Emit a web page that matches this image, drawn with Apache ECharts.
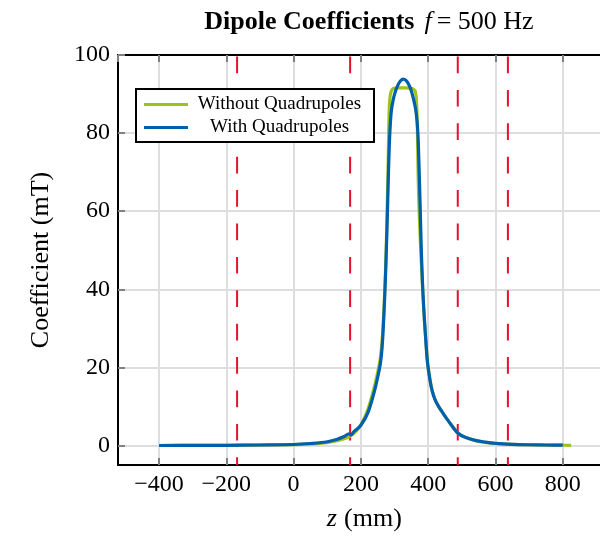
<!DOCTYPE html>
<html>
<head>
<meta charset="utf-8">
<script src="https://cdn.jsdelivr.net/npm/echarts@6/dist/echarts.min.js"></script>
<style>
  html, body { margin: 0; padding: 0; background: #fff; }
  #chart { width: 600px; height: 536px; }
</style>
</head>
<body>
<div id="chart"></div>
<script>
// Dipole coefficient along the beam axis, f = 500 Hz
const zWithout = [-400, -300, -200, -100, 0, 50, 100, 130, 150, 168, 185, 200, 220, 240, 250, 258, 264, 268, 272, 275, 278, 281, 283, 285, 288, 293, 300, 315, 330, 345, 355, 361, 364, 366, 368, 370, 372, 375, 379, 383, 388, 393, 398, 405, 412, 420, 430, 440, 460, 488, 510, 540, 570, 600, 650, 700, 750, 800, 825];
const bWithout = [0, 0.02, 0.05, 0.1, 0.2, 0.4, 0.75, 1.2, 1.7, 2.4, 3.6, 5.3, 9.0, 15.0, 18.8, 22.5, 28, 34, 42, 50, 60, 72, 82, 87.5, 90, 91.2, 91.5, 91.6, 91.6, 91.5, 91.3, 90.8, 89.5, 87, 81, 70, 63, 56, 48, 41, 33, 27, 21.5, 17.2, 14.1, 11.9, 10.2, 8.8, 6.3, 3.2, 2.1, 1.25, 0.78, 0.5, 0.26, 0.15, 0.1, 0.07, 0.05];

const zWith = [-400, -300, -200, -100, 0, 50, 100, 130, 150, 165, 170, 180, 200, 220, 240, 250, 258, 263, 267, 271, 275, 279, 282, 285, 288, 291, 296, 302, 310, 318, 326, 334, 342, 350, 357, 363, 367, 370, 373, 376, 379, 383, 387, 391, 394, 398, 405, 412, 420, 430, 440, 460, 488, 510, 540, 570, 600, 650, 700, 750, 800];
const bWith = [0, 0.02, 0.05, 0.12, 0.25, 0.5, 0.95, 1.6, 2.3, 3.0, 2.7, 3.6, 5.2, 8.2, 13.8, 17.5, 21, 25, 31, 38.5, 48, 60, 70, 78, 83, 86, 88.5, 90.5, 92.3, 93.4, 93.8, 93.5, 92.5, 90.8, 88.5, 86, 83, 79, 71, 62, 52, 42, 35, 29.5, 25.5, 21.2, 16.9, 13.9, 11.8, 10.1, 8.8, 6.3, 3.2, 2.1, 1.3, 0.85, 0.55, 0.3, 0.18, 0.12, 0.08];

// Magnet boundaries along z (mm)
const boundaries = [-168, 168, 488, 637];

const seriesNames = ['Without Quadrupoles', 'With Quadrupoles'];
const xRange = [-522, 942];
const yRange = [-5, 100];

const GREEN = '#9dc41a';
const BLUE = '#0060ae';
const RED = '#e8102e';
const SERIF = '"Liberation Serif", "DejaVu Serif", serif';

const pairs = (xs, ys) => xs.map((x, i) => [x, ys[i]]);

const boundarySeries = boundaries.map(b => ({
  type: 'line',
  data: [[b, yRange[1]], [b, yRange[0]]],
  symbol: 'none',
  silent: true,
  clip: false,
  z: 3,
  lineStyle: { color: RED, width: 2, type: [16.7, 16.7], dashOffset: -1.5 }
}));

const chart = echarts.init(document.getElementById('chart'), null, { renderer: 'canvas' });

chart.setOption({
  animation: false,
  backgroundColor: '#fff',
  title: {
    text: '{b|Dipole Coefficients}  {i|f} {n|= 500 Hz}',
    left: 364,
    top: 4,
    textAlign: 'center',
    textStyle: {
      fontWeight: 'normal',
      rich: {
        b: { fontFamily: SERIF, fontWeight: 'bold', fontSize: 26, color: '#000' },
        i: { fontFamily: SERIF, fontStyle: 'italic', fontWeight: 'normal', fontSize: 26, color: '#000' },
        n: { fontFamily: SERIF, fontWeight: 'normal', fontSize: 26, color: '#000' }
      }
    }
  },
  legend: {
    data: seriesNames,
    orient: 'vertical',
    left: 136,
    top: 89,
    padding: [6, 8, 5, 8],
    itemGap: 4,
    itemWidth: 44,
    itemHeight: 3,
    itemTextGap: 5,
    icon: 'rect',
    borderColor: '#000',
    borderWidth: 2,
    borderRadius: 0,
    backgroundColor: '#fff',
    z: 10,
    formatter: '{t|{name}}',
    textStyle: {
      rich: {
        t: { width: 173, align: 'center', fontFamily: SERIF, fontSize: 19, color: '#000', lineHeight: 19 }
      }
    }
  },
  grid: { left: 118, top: 55, width: 492.5, height: 410, containLabel: false, outerBoundsMode: 'none' },
  xAxis: [
    {
      type: 'value',
      min: xRange[0],
      max: xRange[1],
      splitNumber: 7,
      minInterval: 200,
      maxInterval: 200,
      position: 'bottom',
      name: '{i|z} {n|(mm)}',
      nameLocation: 'middle',
      nameGap: 41,
      nameTextStyle: {
        rich: {
          i: { fontFamily: SERIF, fontStyle: 'italic', fontSize: 26, color: '#000' },
          n: { fontFamily: SERIF, fontSize: 26, color: '#000', padding: [0, 0, 0, 4] }
        }
      },
      axisLine: { show: true, onZero: false, lineStyle: { color: '#000', width: 2 } },
      axisTick: { show: true, inside: true, length: 7, lineStyle: { color: '#808080', width: 2 } },
      axisLabel: {
        showMinLabel: false, showMaxLabel: false, margin: 8,
        fontFamily: SERIF, fontSize: 24, color: '#000',
        formatter: v => (v < 0 ? '\u2212' + Math.abs(v) : String(v))
      },
      splitLine: { show: true, lineStyle: { color: '#dedede', width: 2 } }
    },
    {
      type: 'value',
      min: xRange[0],
      max: xRange[1],
      splitNumber: 7,
      minInterval: 200,
      maxInterval: 200,
      position: 'top',
      axisLine: { show: true, onZero: false, lineStyle: { color: '#000', width: 2 } },
      axisTick: { show: true, inside: true, length: 7, lineStyle: { color: '#808080', width: 2 } },
      axisLabel: { show: false },
      splitLine: { show: false }
    }
  ],
  yAxis: {
    type: 'value',
    min: yRange[0],
    max: yRange[1],
    splitNumber: 6,
    minInterval: 20,
    maxInterval: 20,
    name: 'Coefficient (mT)',
    nameLocation: 'middle',
    nameGap: 64,
    nameTextStyle: { fontFamily: SERIF, fontSize: 26, color: '#000' },
    axisLine: { show: true, onZero: false, lineStyle: { color: '#000', width: 2 } },
    axisTick: { show: true, inside: true, length: 7, lineStyle: { color: '#808080', width: 2 } },
    axisLabel: { showMinLabel: false, margin: 8, fontFamily: SERIF, fontSize: 24, color: '#000' },
    splitLine: { show: true, lineStyle: { color: '#dedede', width: 2 } }
  },
  series: [
    {
      name: seriesNames[0],
      type: 'line',
      data: pairs(zWithout, bWithout),
      symbol: 'none',
      smooth: 0.35,
      color: GREEN,
      z: 4,
      lineStyle: { color: GREEN, width: 3.2 }
    },
    {
      name: seriesNames[1],
      type: 'line',
      data: pairs(zWith, bWith),
      symbol: 'none',
      smooth: 0.35,
      color: BLUE,
      z: 5,
      lineStyle: { color: BLUE, width: 3.2 }
    },
    ...boundarySeries
  ]
});
</script>
</body>
</html>
